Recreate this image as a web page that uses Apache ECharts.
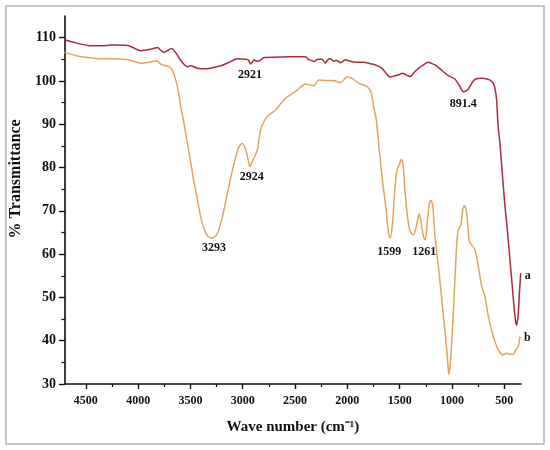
<!DOCTYPE html>
<html>
<head>
<meta charset="utf-8">
<script src="https://cdn.jsdelivr.net/npm/echarts@6/dist/echarts.min.js"></script>
<style>
  html, body { margin: 0; padding: 0; background: #fff; }
  #main { width: 550px; height: 450px; }
</style>
</head>
<body>
<div id="main"></div>
<script>
// spectrum a (upper, dark red)
var waveA = [4706, 4600, 4481, 4350, 4259, 4100, 3973, 3880, 3814, 3780, 3750, 3720, 3680, 3640, 3600, 3560, 3528, 3496, 3440, 3369, 3300, 3210, 3130, 3051, 2972, 2945, 2924, 2905, 2893, 2870, 2845, 2797, 2686, 2550, 2400, 2368, 2340, 2321, 2280, 2241, 2209, 2190, 2162, 2130, 2100, 2066, 2040, 2019, 1980, 1923, 1850, 1764, 1720, 1669, 1630, 1590, 1540, 1500, 1478, 1440, 1399, 1360, 1320, 1280, 1225, 1190, 1161, 1100, 1034, 970, 930, 891, 860, 843, 810, 779, 715, 660, 636, 605, 589, 573, 560, 541, 520, 493, 470, 446, 425, 407, 392, 382, 374, 366, 355, 343];
var transA = [109.5, 108.8, 108.2, 108.1, 108.3, 108.2, 107.0, 107.3, 107.7, 107.0, 106.6, 107.0, 107.5, 106.5, 105.0, 103.8, 103.3, 103.5, 103.0, 102.8, 103.0, 103.5, 104.3, 105.1, 105.0, 104.8, 103.9, 104.5, 104.9, 104.6, 104.6, 105.4, 105.5, 105.6, 105.6, 104.9, 104.7, 104.5, 105.0, 105.0, 104.1, 104.8, 105.1, 104.6, 104.7, 104.2, 104.6, 104.9, 104.6, 104.3, 104.3, 103.9, 103.6, 102.9, 101.8, 100.9, 101.2, 101.5, 101.8, 101.4, 101.0, 102.0, 102.9, 103.6, 104.3, 104.0, 103.7, 102.5, 101.2, 100.4, 99.0, 97.5, 97.8, 98.1, 99.5, 100.4, 100.6, 100.4, 100.2, 99.5, 98.3, 95.6, 90.0, 85.6, 79.0, 71.0, 65.5, 58.7, 53.0, 47.9, 44.5, 43.6, 44.5, 46.3, 51.0, 55.6];

// spectrum b (lower, orange)
var waveB = [4706, 4600, 4481, 4350, 4259, 4100, 3973, 3900, 3830, 3800, 3782, 3740, 3703, 3680, 3660, 3640, 3623, 3592, 3560, 3528, 3496, 3465, 3432, 3401, 3370, 3337, 3289, 3242, 3194, 3146, 3083, 3036, 3003, 2972, 2950, 2931, 2910, 2893, 2860, 2829, 2800, 2765, 2686, 2591, 2479, 2400, 2321, 2273, 2193, 2130, 2098, 2066, 2002, 1955, 1892, 1812, 1774, 1749, 1723, 1701, 1669, 1637, 1606, 1590, 1568, 1549, 1526, 1504, 1485, 1469, 1447, 1421, 1399, 1367, 1335, 1313, 1294, 1272, 1256, 1234, 1215, 1199, 1183, 1161, 1129, 1097, 1065, 1043, 1030, 1015, 992, 970, 954, 939, 916, 897, 881, 859, 840, 834, 811, 779, 748, 715, 684, 652, 605, 557, 510, 477, 439, 414, 388, 366, 350];
var transB = [106.6, 105.9, 105.4, 105.1, 105.1, 104.9, 104.1, 104.3, 104.6, 104.3, 103.9, 103.5, 103.3, 102.8, 101.8, 100.2, 98.5, 94.0, 90.0, 85.5, 81.0, 76.5, 72.5, 68.5, 65.8, 64.2, 63.7, 64.8, 68.7, 74.1, 81.0, 84.8, 85.6, 84.1, 82.0, 80.2, 81.3, 82.2, 84.1, 88.7, 90.5, 91.8, 93.3, 96.0, 97.9, 99.3, 98.9, 100.2, 100.1, 100.1, 99.8, 99.6, 100.9, 100.6, 99.5, 98.7, 97.5, 94.1, 91.0, 85.6, 77.9, 71.8, 64.8, 63.7, 67.1, 74.1, 79.4, 80.6, 81.9, 81.0, 74.1, 67.9, 65.2, 64.4, 67.1, 69.4, 67.1, 64.0, 63.3, 67.9, 71.8, 72.4, 71.0, 64.0, 57.1, 49.4, 41.7, 36.0, 32.2, 35.0, 44.0, 55.0, 62.5, 65.6, 66.7, 70.2, 71.2, 69.4, 64.0, 62.9, 62.1, 61.0, 57.1, 52.5, 50.2, 45.6, 41.0, 37.9, 36.7, 37.1, 36.9, 36.9, 37.9, 38.6, 41.0];

// ticks
var xMajor = [500, 1000, 1500, 2000, 2500, 3000, 3500, 4000, 4500];
var xMinor = [750, 1250, 1750, 2250, 2750, 3250, 3750, 4250];
var yMajor = [30, 40, 50, 60, 70, 80, 90, 100, 110];
var yMinor = [35, 45, 55, 65, 75, 85, 95, 105];

// peak labels: text, wave position, transmittance position of the label
var peakNamesA = ['2921', '891.4'];
var peakWaveA = [2931, 891];
var peakTransA = [101.4, 94.8];
var peakNamesB = ['3293', '2924', '1599', '1261'];
var peakWaveB = [3274, 2915, 1599, 1265];
var peakTransB = [61.5, 77.8, 60.6, 60.6];

var myChart = echarts.init(document.getElementById('main'));

function zip(xs, ys) {
    var out = [];
    for (var i = 0; i < xs.length; i++) out.push([xs[i], ys[i]]);
    return out;
}

function peakPoints(names, ws, ts) {
    var out = [];
    for (var i = 0; i < names.length; i++) {
        out.push({ name: names[i], coord: [ws[i], ts[i]] });
    }
    return out;
}

var serif = 'Liberation Serif';
var labelStyle = { fontFamily: serif, fontWeight: 'bold', fontSize: 12, color: '#111' };
var plain = function (v) { return String(v); };

var xMin = 340, xMax = 4700;
var yMin = 30, yMax = 115;

var option = {
    backgroundColor: '#fff',
    animation: false,
    graphic: [{
        type: 'rect',
        shape: { x: 6, y: 6, width: 538, height: 438 },
        style: { fill: 'none', stroke: '#b4b4b4', lineWidth: 1.5 },
        silent: true
    }],
    grid: { left: 63, right: 29, top: 16, bottom: 66 },
    xAxis: [{
        type: 'value',
        inverse: true,
        min: xMin,
        max: xMax,
        name: 'Wave number (cm\u207B\u00B9)',
        nameLocation: 'middle',
        nameGap: 36,
        nameTextStyle: { fontFamily: serif, fontWeight: 'bold', fontSize: 15, color: '#111' },
        axisLine: { onZero: false, lineStyle: { color: '#111', width: 1.6 } },
        axisTick: { customValues: xMajor, length: 5, lineStyle: { color: '#111', width: 1.4 } },
        axisLabel: Object.assign({ customValues: xMajor, margin: 11, formatter: plain }, labelStyle),
        splitLine: { show: false }
    }, {
        type: 'value',
        inverse: true,
        min: xMin,
        max: xMax,
        position: 'bottom',
        axisLine: { show: false, onZero: false },
        axisTick: { customValues: xMinor, length: 3, lineStyle: { color: '#111', width: 1.2 } },
        axisLabel: { show: false },
        splitLine: { show: false }
    }],
    yAxis: [{
        type: 'value',
        min: yMin,
        max: yMax,
        name: '% Transmittance',
        nameLocation: 'middle',
        nameGap: 36,
        nameTextStyle: { fontFamily: serif, fontWeight: 'bold', fontSize: 16, color: '#111', padding: [0, 0, 0, 42] },
        axisLine: { show: true, onZero: false, lineStyle: { color: '#111', width: 1.6 } },
        axisTick: { show: true, customValues: yMajor, length: 6, lineStyle: { color: '#111', width: 1.4 } },
        axisLabel: Object.assign({ customValues: yMajor, margin: 9, formatter: plain }, labelStyle, { fontSize: 14 }),
        splitLine: { show: false }
    }, {
        type: 'value',
        min: yMin,
        max: yMax,
        position: 'left',
        axisLine: { show: false, onZero: false },
        axisTick: { show: true, customValues: yMinor, length: 3.5, lineStyle: { color: '#111', width: 1.2 } },
        axisLabel: { show: false },
        splitLine: { show: false }
    }],
    series: [{
        name: 'a',
        type: 'line',
        data: zip(waveA, transA),
        showSymbol: false,
        smooth: 0.25,
        lineStyle: { color: '#ad2a3c', width: 1.5 },
        itemStyle: { color: '#ad2a3c' },
        markPoint: {
            symbol: 'circle',
            symbolSize: 0,
            label: Object.assign({ show: true, position: 'inside', formatter: '{b}' }, labelStyle),
            data: peakPoints(peakNamesA, peakWaveA, peakTransA).concat([{
                name: 'a',
                coord: [waveA[waveA.length - 1], transA[transA.length - 1]],
                label: { position: 'right', distance: 4, offset: [0, 3] }
            }])
        }
    }, {
        name: 'b',
        type: 'line',
        data: zip(waveB, transB),
        showSymbol: false,
        smooth: 0.25,
        lineStyle: { color: '#e3a45c', width: 1.5 },
        itemStyle: { color: '#e3a45c' },
        markPoint: {
            symbol: 'circle',
            symbolSize: 0,
            label: Object.assign({ show: true, position: 'inside', formatter: '{b}' }, labelStyle),
            data: peakPoints(peakNamesB, peakWaveB, peakTransB).concat([{
                name: 'b',
                coord: [waveB[waveB.length - 1], transB[transB.length - 1]],
                label: { position: 'right', distance: 4, offset: [0, 2] }
            }])
        }
    }]
};

myChart.setOption(option);
</script>
</body>
</html>
